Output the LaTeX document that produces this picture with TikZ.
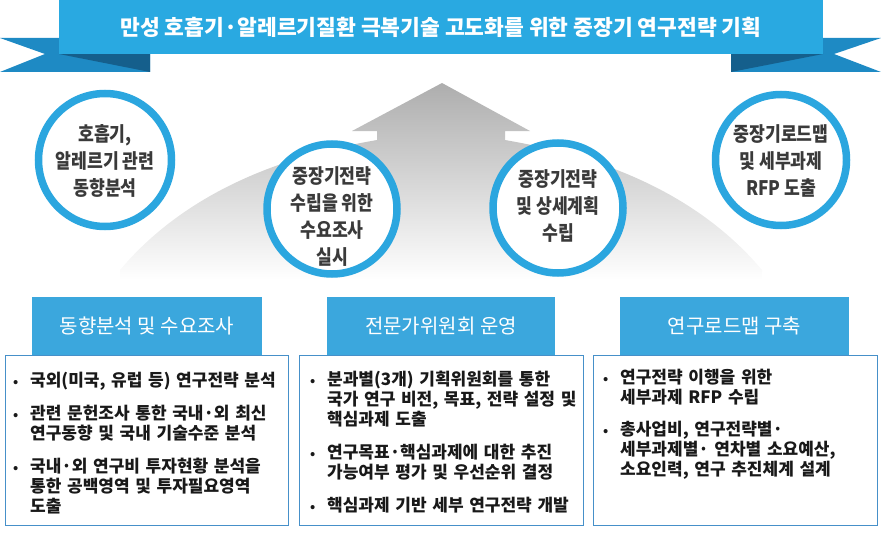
\documentclass[tikz,border=0pt]{standalone}
\usepackage{fontspec}
\setmainfont{Noto Sans CJK KR}
\newfontfamily\narrowkr{Noto Sans CJK KR}[FakeStretch=0.86]
\usepackage{xcolor}
\definecolor{titleblue}{HTML}{29A9E1}
\definecolor{tailblue}{HTML}{1E8AC4}
\definecolor{folddark}{HTML}{155F8C}
\definecolor{ringblue}{HTML}{2BA6DF}
\definecolor{headblue}{HTML}{3BA7DD}
\definecolor{lineblue}{HTML}{4690C9}
\definecolor{circtext}{HTML}{3A3A3A}
\newcommand{\bul}[1]{\par\hangindent=17pt\hangafter=1\noindent\makebox[17pt][l]{\fontsize{13}{13}\selectfont •}#1\par}

\begin{document}
\begin{tikzpicture}[x=1pt,y=-1pt,
  ring/.style={circle,draw=ringblue,line width=7.5pt,fill=white,inner sep=0pt},
  ringtext/.style={align=center,inner sep=0pt,text=circtext,font=\narrowkr\bfseries\fontsize{20}{27}\selectfont},
  headbox/.style={fill=headblue,minimum height=58pt,inner sep=0pt,text=white,
    font=\fontsize{20}{22}\selectfont},
  listbox/.style={draw=lineblue,line width=0.9pt,fill=white,minimum width=283pt,minimum height=170pt,inner sep=0pt},
  listtext/.style={anchor=north west,inner sep=0pt,text width=272pt,align=left,
    font=\bfseries\fontsize{17}{20}\selectfont,text=black!90}]
\useasboundingbox (0,0) rectangle (881,535);
\shade[top color=black!32,middle color=black!12,bottom color=white]
  (442,83) -- (530,131) -- (505,131) -- (505,140)
  .. controls (562,150) and (682,175) .. (762,270) -- (762,280) -- (120,280) -- (120,270)
  .. controls (200,175) and (320,150) .. (377,140) -- (377,131) -- (352,131) -- cycle;
\fill[tailblue] (0,38) -- (150,38) -- (150,72) -- (0,72) -- (45,54) -- cycle;
\fill[folddark] (59,54) -- (150,54) -- (150,72) -- cycle;
\fill[tailblue] (881,38) -- (731,38) -- (731,72) -- (881,72) -- (834,54) -- cycle;
\fill[folddark] (823,54) -- (731,54) -- (731,72) -- cycle;
\node[fill=titleblue,minimum width=764pt,minimum height=54pt,inner sep=0pt,text=white,
  font=\bfseries\fontsize{21.5}{24}\selectfont] (title) at (441,27)
  {만성 호흡기·알레르기질환 극복기술 고도화를 위한 중장기 연구전략 기획};
\node[ring,minimum size=133pt] (trend) at (105,160) {};
\node[ringtext] (trendtext) at (105,161) {호흡기,\\알레르기 관련\\동향분석};
\node[ring,minimum size=130pt] (survey) at (332,209) {};
\node[ringtext] (surveytext) at (332,217) {중장기전략\\수립을 위한\\수요조사\\실시};
\node[ring,minimum size=130pt] (plan) at (558,208) {};
\node[ringtext] (plantext) at (558,206) {중장기전략\\및 상세계획\\수립};
\node[ring,minimum size=131pt] (rfp) at (781,160) {};
\node[ringtext] (rfptext) at (781,161) {중장기로드맵\\및 세부과제\\RFP 도출};
\node[listbox] (box1) at (146.5,440) {};
\node[listbox,minimum width=284pt] (box2) at (441,440) {};
\node[listbox,minimum width=284pt] (box3) at (735,440) {};
\node[headbox,minimum width=230pt] (head1) at (147,326) {동향분석 및 수요조사};
\node[headbox,minimum width=228pt] (head2) at (441,326) {전문가위원회 운영};
\node[headbox,minimum width=229pt] (head3) at (734.5,326) {연구로드맵 구축};
\node[listtext] (list1) at (13,353) {\setlength{\parskip}{13pt}%
  \bul{국외(미국, 유럽 등) 연구전략 분석}
  \bul{관련 문헌조사 통한 국내·외 최신\newline 연구동향 및 국내 기술수준 분석}
  \bul{국내·외 연구비 투자현황 분석을\newline 통한 공백영역 및 투자필요영역\newline 도출}};
\node[listtext] (list2) at (310,352) {\setlength{\parskip}{13pt}%
  \bul{분과별(3개) 기획위원회를 통한\newline 국가 연구 비전, 목표, 전략 설정 및\newline 핵심과제 도출}
  \bul{연구목표·핵심과제에 대한 추진\newline 가능여부 평가 및 우선순위 결정}
  \bul{핵심과제 기반 세부 연구전략 개발}};
\node[listtext] (list3) at (603,351) {\setlength{\parskip}{12pt}%
  \bul{연구전략 이행을 위한\newline 세부과제 RFP 수립}
  \bul{총사업비, 연구전략별·\newline 세부과제별· 연차별 소요예산,\newline 소요인력, 연구 추진체계 설계}};
\end{tikzpicture}
\end{document}
